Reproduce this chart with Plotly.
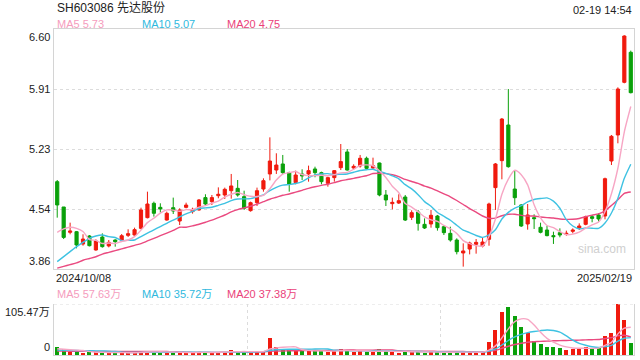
import plotly.graph_objects as go
import pandas as pd

# ---------------- data ----------------
opens = [4.857, 4.568, 4.279, 4.286, 4.145, 4.237, 4.077, 4.225, 4.123, 4.191,
         4.191, 4.244, 4.248, 4.324, 4.446, 4.610, 4.564, 4.419, 4.560, 4.408,
         4.564, 4.515, 4.534, 4.675, 4.629, 4.697, 4.705, 4.754, 4.781, 4.686,
         4.526, 4.617, 4.773, 4.945, 4.990, 5.059, 4.960, 4.846, 4.945, 4.945,
         5.002, 4.960, 4.838, 4.903, 5.017, 5.196, 5.013, 5.036, 5.124, 5.013,
         5.070, 4.705, 4.606, 4.613, 4.682, 4.450, 4.511, 4.370, 4.374, 4.465,
         4.343, 4.267, 4.191, 4.043, 4.088, 4.142, 4.123, 4.199, 4.789, 5.097,
         5.504, 4.773, 4.591, 4.374, 4.446, 4.336, 4.305, 4.241, 4.275, 4.256,
         4.290, 4.328, 4.370, 4.457, 4.477, 4.465, 5.093, 5.390, 5.991, 6.334]
closes = [4.591, 4.221, 4.294, 4.134, 4.202, 4.126, 4.180, 4.115, 4.164, 4.172,
          4.240, 4.263, 4.309, 4.534, 4.602, 4.496, 4.545, 4.496, 4.522, 4.534,
          4.590, 4.541, 4.648, 4.602, 4.675, 4.713, 4.770, 4.808, 4.705, 4.553,
          4.617, 4.754, 4.868, 5.093, 5.047, 4.960, 4.830, 4.933, 4.922, 4.983,
          4.960, 4.857, 4.903, 4.983, 5.086, 4.990, 5.032, 5.124, 5.009, 5.040,
          4.705, 4.648, 4.621, 4.640, 4.419, 4.503, 4.381, 4.328, 4.473, 4.332,
          4.275, 4.191, 4.058, 4.066, 4.157, 4.164, 4.168, 4.602, 5.059, 5.572,
          5.028, 4.674, 4.351, 4.477, 4.435, 4.279, 4.241, 4.229, 4.248, 4.267,
          4.305, 4.351, 4.457, 4.438, 4.431, 4.891, 5.375, 5.915, 6.520, 5.873]
highs = [4.876, 4.568, 4.389, 4.294, 4.256, 4.248, 4.199, 4.267, 4.191, 4.199,
         4.259, 4.313, 4.332, 4.560, 4.743, 4.629, 4.610, 4.515, 4.675, 4.553,
         4.617, 4.560, 4.659, 4.713, 4.705, 4.792, 4.789, 4.945, 4.876, 4.754,
         4.629, 4.789, 4.895, 5.363, 5.181, 5.162, 4.971, 4.983, 4.998, 5.040,
         5.028, 4.971, 4.914, 4.990, 5.287, 5.230, 5.055, 5.162, 5.143, 5.131,
         5.074, 4.762, 4.675, 4.713, 4.705, 4.530, 4.534, 4.438, 4.534, 4.477,
         4.362, 4.343, 4.210, 4.153, 4.172, 4.202, 4.221, 4.617, 5.070, 5.584,
         5.915, 4.990, 4.602, 4.602, 4.484, 4.389, 4.351, 4.286, 4.324, 4.298,
         4.324, 4.381, 4.469, 4.477, 4.496, 4.903, 5.390, 5.934, 6.528, 6.353]
lows = [4.446, 4.202, 4.256, 4.096, 4.126, 4.118, 4.069, 4.104, 4.107, 4.115,
        4.180, 4.225, 4.240, 4.313, 4.438, 4.458, 4.503, 4.412, 4.488, 4.362,
        4.553, 4.492, 4.526, 4.587, 4.591, 4.667, 4.659, 4.663, 4.686, 4.534,
        4.515, 4.579, 4.743, 4.872, 4.945, 4.945, 4.743, 4.827, 4.876, 4.857,
        4.907, 4.827, 4.800, 4.857, 4.990, 4.983, 4.994, 5.017, 5.002, 5.002,
        4.690, 4.579, 4.541, 4.602, 4.408, 4.419, 4.298, 4.317, 4.332, 4.298,
        4.248, 4.172, 4.027, 3.887, 4.027, 4.035, 4.107, 4.126, 4.534, 4.884,
        5.017, 4.591, 4.340, 4.309, 4.317, 4.267, 4.233, 4.146, 4.222, 4.240,
        4.267, 4.305, 4.359, 4.393, 4.400, 4.427, 5.047, 5.295, 5.980, 5.865]
# volume in 万
volumes = [17.3, 11.5, 6.0, 6.5, 5.0, 5.5, 6.0, 5.0, 4.5, 4.5,
           5.0, 4.5, 5.5, 7.5, 8.5, 6.5, 5.0, 5.0, 5.5, 6.0,
           4.5, 4.0, 6.5, 6.0, 5.0, 5.5, 7.0, 9.5, 7.0, 6.5,
           5.0, 7.0, 9.0, 34.5, 17.0, 13.0, 10.0, 9.0, 8.0, 7.5,
           8.5, 9.5, 7.0, 7.5, 12.0, 11.0, 6.0, 8.0, 7.0, 6.0,
           11.5, 8.0, 6.0, 5.0, 8.5, 6.0, 6.5, 5.0, 6.5, 6.0,
           5.0, 5.5, 6.5, 7.0, 5.5, 5.0, 5.5, 27.8, 50.7, 88.1,
           98.5, 79.8, 56.9, 45.1, 29.8, 22.9, 17.4, 17.4, 15.3, 10.4,
           12.5, 13.9, 17.4, 13.9, 13.9, 40.0, 45.1, 105.47, 72.9, 24.0]

# moving-average values before enough visible bars exist
ma5_head = [4.279, 4.317, 4.336, 4.324]
ma10_head = [3.944, 4.001, 4.058, 4.115, 4.164, 4.210, 4.237, 4.248, 4.229]
ma20_head = [3.87, 3.89, 3.91, 3.93, 3.96, 3.98, 4.00, 4.03, 4.05, 4.07,
             4.09, 4.11, 4.13, 4.15, 4.18, 4.21, 4.24, 4.27, 4.30]
vma5_head = [13.0, 12.0, 11.0, 10.0]
vma10_head = [10.0, 9.8, 9.5, 9.2, 9.0, 8.8, 8.5, 8.2, 8.0]
vma20_head = [8.0, 8.0, 7.9, 7.8, 7.8, 7.7, 7.6, 7.6, 7.5, 7.5,
              7.4, 7.4, 7.3, 7.3, 7.2, 7.2, 7.1, 7.1, 7.0]

price_tick_vals = [3.86, 4.545, 5.23, 5.915, 6.60]
price_tick_text = ["3.86", "4.54", "5.23", "5.91", "6.60"]
vol_max = 105.47
vol_tick_text = ["0", "105.47万"]
date_labels = ["2024/10/08", "2025/02/19"]
title_text = "SH603086 先达股份"
time_text = "02-19 14:54"
ma_labels = ["MA5 5.73", "MA10 5.07", "MA20 4.75"]
vma_labels = ["MA5 57.63万", "MA10 35.72万", "MA20 37.38万"]
watermark = "sina.com"

# ---------------- styling ----------------
RED = "#f01a0e"
GREEN = "#0aa00a"
C_MA5 = "#f7a6c4"
C_MA10 = "#3ec2e2"
C_MA20 = "#ea4a80"
T_MA5 = "#f59cbd"
T_MA10 = "#2fb9de"
T_MA20 = "#ea3f7a"
BORDER = "#d4d4d4"
GRID = "#dcdcdc"
FONT = "Liberation Sans, Arial, Noto Sans CJK SC, sans-serif"
W, H = 640, 360


def ma(values, n, head):
    r = pd.Series(values).rolling(n).mean().tolist()
    r[:n - 1] = head
    return r


idx = list(range(len(closes)))
ma5 = ma(closes, 5, ma5_head)
ma10 = ma(closes, 10, ma10_head)
ma20 = ma(closes, 20, ma20_head)
vma5 = ma(volumes, 5, vma5_head)
vma10 = ma(volumes, 10, vma10_head)
vma20 = ma(volumes, 20, vma20_head)
vcolors = [RED if c >= o else GREEN for o, c in zip(opens, closes)]

fig = go.Figure()
fig.add_trace(go.Candlestick(
    x=idx, open=opens, high=highs, low=lows, close=closes,
    increasing=dict(line=dict(color=RED, width=1), fillcolor=RED),
    decreasing=dict(line=dict(color=GREEN, width=1), fillcolor=GREEN),
    whiskerwidth=0, xaxis="x", yaxis="y", showlegend=False))
for vals, col in [(ma20, C_MA20), (ma10, C_MA10), (ma5, C_MA5)]:
    fig.add_trace(go.Scatter(x=idx, y=vals, mode="lines", line=dict(color=col, width=1.4, shape="spline", smoothing=0.6),
                             xaxis="x", yaxis="y", showlegend=False, hoverinfo="skip"))

fig.add_trace(go.Bar(x=idx, y=volumes, marker=dict(color=vcolors, line=dict(width=0)), width=0.62,
                     xaxis="x2", yaxis="y2", showlegend=False))
for vals, col in [(vma20, C_MA20), (vma10, C_MA10), (vma5, C_MA5)]:
    fig.add_trace(go.Scatter(x=idx, y=vals, mode="lines", line=dict(color=col, width=1.4, shape="spline", smoothing=0.6),
                             xaxis="x2", yaxis="y2", showlegend=False, hoverinfo="skip"))

n = len(closes)
xr = [-0.5, n - 0.5]
xdom = [54 / W, 634 / W]
fig.update_layout(
    width=W, height=H, margin=dict(l=0, r=0, t=0, b=0),
    paper_bgcolor="white", plot_bgcolor="white",
    font=dict(family=FONT, size=11, color="#222"),
    xaxis=dict(domain=xdom, range=xr, showgrid=False, showticklabels=False, zeroline=False,
               showline=True, mirror=True, linecolor=BORDER, linewidth=1, rangeslider=dict(visible=False),
               fixedrange=True),
    yaxis=dict(domain=[1 - 269 / H, 1 - 29 / H], range=[price_tick_vals[0], price_tick_vals[-1]],
               tickvals=price_tick_vals[1:-1], showticklabels=False, showgrid=True, gridcolor=GRID,
               griddash="dot", gridwidth=1, zeroline=False, showline=True, mirror=True,
               linecolor=BORDER, linewidth=1, fixedrange=True),
    xaxis2=dict(domain=xdom, range=xr, anchor="y2", tickvals=[29.5, 59.5], showticklabels=False,
                showgrid=True, gridcolor=GRID, griddash="dot", zeroline=False, showline=True,
                mirror=False, linecolor=BORDER, ticks="", fixedrange=True),
    yaxis2=dict(domain=[1 - 355 / H, 1 - 304 / H], range=[0, vol_max], anchor="x2",
                showticklabels=False, showgrid=False, zeroline=False, showline=True, mirror=True,
                linecolor=BORDER, fixedrange=True),
    bargap=0,
    hovermode=False,
)

# dotted top line of the volume panel (at the max volume level)
fig.add_shape(type="line", xref="x2", yref="y2", x0=xr[0], x1=xr[1], y0=vol_max, y1=vol_max,
              line=dict(color=GRID, width=1, dash="dot"))

ann = []
# price labels
for i, (v, t) in enumerate(zip(price_tick_vals, price_tick_text)):
    ya = "bottom" if i == 0 else ("top" if i == len(price_tick_vals) - 1 else "middle")
    ann.append(dict(x=52 / W, xref="paper", y=v, yref="y", text=t, showarrow=False,
                    xanchor="right", yanchor=ya, font=dict(size=11, color="#222")))
# volume labels
ann.append(dict(x=52 / W, xref="paper", y=0, yref="y2", text=vol_tick_text[0], showarrow=False,
                xanchor="right", yanchor="bottom", font=dict(size=11, color="#222")))
ann.append(dict(x=52 / W, xref="paper", y=vol_max, yref="y2", text=vol_tick_text[1], showarrow=False,
                xanchor="right", yanchor="top", font=dict(size=11, color="#222")))
# dates
ann.append(dict(x=xr[0], xref="x", y=1 - 278 / H, yref="paper", text=date_labels[0], showarrow=False,
                xanchor="left", yanchor="middle", font=dict(size=11, color="#222")))
ann.append(dict(x=xr[1], xref="x", y=1 - 278 / H, yref="paper", text=date_labels[1], showarrow=False,
                xanchor="right", yanchor="middle", font=dict(size=11, color="#222")))
# header
ann.append(dict(x=55 / W, xref="paper", y=1 - 8 / H, yref="paper", text=title_text, showarrow=False,
                xanchor="left", yanchor="middle", font=dict(size=12, color="#222")))
ann.append(dict(x=634 / W, xref="paper", y=1 - 10 / H, yref="paper", text=time_text, showarrow=False,
                xanchor="right", yanchor="middle", font=dict(size=11, color="#222")))
# MA legends
for lbls, yy in [(ma_labels, 24), (vma_labels, 294)]:
    for t, xx, col in zip(lbls, [55, 140, 225], [T_MA5, T_MA10, T_MA20]):
        ann.append(dict(x=xx / W, xref="paper", y=1 - yy / H, yref="paper", text=t, showarrow=False,
                        xanchor="left", yanchor="middle", font=dict(size=11, color=col)))
# watermark
ann.append(dict(x=602 / W, xref="paper", y=1 - 249 / H, yref="paper", text=watermark, showarrow=False,
                xanchor="center", yanchor="middle", font=dict(size=12, color="#cfcfcf")))
fig.update_layout(annotations=ann)

fig.write_html("out.html")
